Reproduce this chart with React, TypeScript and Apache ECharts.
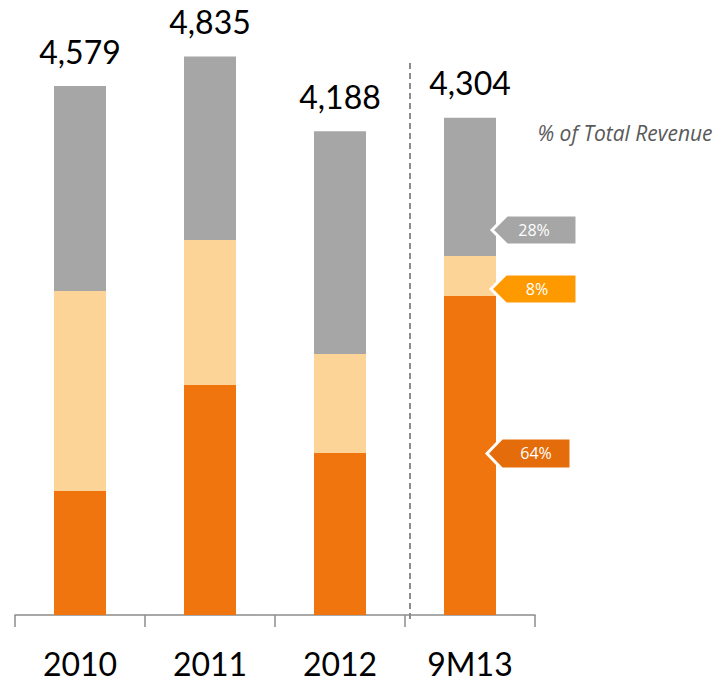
import React, { useEffect, useRef } from "react";
import * as echarts from "echarts";

const categories = ["2010", "2011", "2012", "9M13"];
const coreValues = [1073, 1991, 1402, 2761];
const lightValues = [1731, 1255, 857, 346];
const grayValues = [1775, 1589, 1929, 1197];
const totalLabels = ["4,579", "4,835", "4,188", "4,304"];
const shareLabels = ["28%", "8%", "64%"];

const FONT = "Lato, 'Open Sans', sans-serif";

export default function App() {
  const ref = useRef<HTMLDivElement>(null);
  useEffect(() => {
    if (!ref.current) return;
    const chart = echarts.init(ref.current, null, { renderer: "svg" });
    const callout = (pts: number[][], fill: string, text: string, tx: number, ty: number) => [
      {
        type: "polygon",
        shape: { points: pts },
        style: { fill, stroke: "#ffffff", lineWidth: 3 },
        z: 10,
      },
      {
        type: "text",
        x: tx,
        y: ty,
        style: {
          text,
          fill: "#ffffff",
          font: `16px 'Open Sans', sans-serif`,
          textAlign: "center",
          textVerticalAlign: "middle",
        },
        z: 11,
      },
    ];
    chart.setOption({
      animation: false,
      grid: { left: 15, right: 187, top: 37.4, bottom: 66, containLabel: false },
      xAxis: {
        type: "category",
        data: categories,
        boundaryGap: true,
        axisLine: { show: true, lineStyle: { color: "#8c8c8c", width: 1.5 } },
        axisTick: { show: true, interval: 0, length: 12, lineStyle: { color: "#8c8c8c", width: 1.5 } },
        axisLabel: { color: "#000", fontSize: 32, fontFamily: FONT, margin: 32 },
      },
      yAxis: { type: "value", min: 0, max: 5000, show: false, splitLine: { show: false } },
      series: [
        {
          type: "bar",
          stack: "t",
          barWidth: 52,
          data: coreValues,
          itemStyle: { color: "#F0750F" },
        },
        {
          type: "bar",
          stack: "t",
          barWidth: 52,
          data: lightValues,
          itemStyle: { color: "#FDD498" },
        },
        {
          type: "bar",
          stack: "t",
          barWidth: 52,
          data: grayValues,
          itemStyle: { color: "#A6A6A6" },
          label: {
            show: true,
            position: "top",
            distance: 19,
            color: "#000",
            fontSize: 32,
            fontFamily: FONT,
            formatter: (p: any) => totalLabels[p.dataIndex],
          },
        },
      ],
      graphic: [
        {
          type: "line",
          shape: { x1: 410, y1: 63, x2: 410, y2: 619 },
          style: { stroke: "#8c8c8c", lineWidth: 2, lineDash: [6, 4] },
        },
        {
          type: "text",
          x: 625,
          y: 133,
          style: {
            text: "% of Total Revenue",
            fill: "#595959",
            font: `italic 21px 'Open Sans', sans-serif`,
            textAlign: "center",
            textVerticalAlign: "middle",
          },
        },
        ...callout([[492, 230], [507, 215], [577, 215], [577, 245], [507, 245]], "#A6A6A6", shareLabels[0], 534, 230),
        ...callout([[491, 289], [506, 274], [577, 274], [577, 304], [506, 304]], "#FE9A00", shareLabels[1], 537, 289),
        ...callout([[487, 453.5], [502, 438], [571, 438], [571, 469], [502, 469]], "#E46C0A", shareLabels[2], 536, 453),
      ],
    });
    return () => chart.dispose();
  }, []);
  return (
    <div
      ref={ref}
      style={{ position: "fixed", left: 0, top: 0, width: 722, height: 681, background: "#fff" }}
    />
  );
}
